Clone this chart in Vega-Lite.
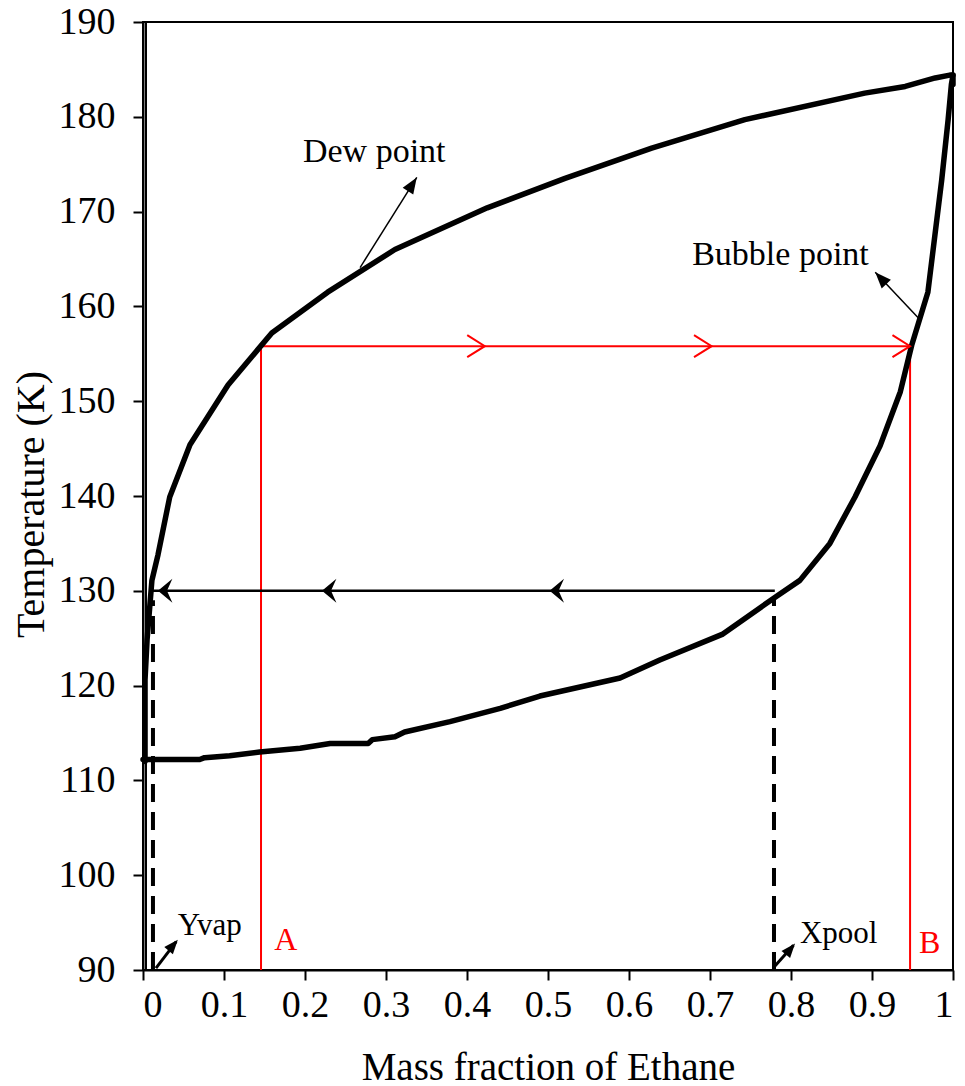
{
  "$schema": "https://vega.github.io/schema/vega-lite/v6.json",
  "width": 810,
  "height": 948,
  "autosize": {"type": "none"},
  "padding": {"left": 143, "top": 22, "right": 12, "bottom": 116},
  "background": "white",
  "config": {
    "view": {"stroke": "black", "strokeWidth": 2},
    "font": "Liberation Serif",
    "axis": {
      "grid": false,
      "domainColor": "black",
      "domainWidth": 2,
      "tickColor": "black",
      "tickWidth": 2,
      "tickSize": 10,
      "labelFont": "Liberation Serif",
      "labelFontSize": 38,
      "labelColor": "black",
      "titleFont": "Liberation Serif",
      "titleFontSize": 39,
      "titleFontWeight": "normal",
      "titleColor": "black"
    }
  },
  "layer": [
    {
      "data": {"values": [{"x": 0.0037, "y": 90, "y2": 190}]},
      "mark": {"type": "rule", "color": "black", "strokeWidth": 2},
      "encoding": {
        "x": {"field": "x", "type": "quantitative", "scale": {"domain": [0, 1], "nice": false, "zero": false},
          "axis": {"values": [0, 0.1, 0.2, 0.3, 0.4, 0.5, 0.6, 0.7, 0.8, 0.9, 1], "format": "~g", "labelPadding": 6, "title": "Mass fraction of Ethane", "titleBaseline": "alphabetic", "titleY": 109}},
        "y": {"field": "y", "type": "quantitative", "scale": {"domain": [90, 190], "nice": false, "zero": false},
          "axis": {"values": [90, 100, 110, 120, 130, 140, 150, 160, 170, 180, 190], "labelPadding": 18, "title": "Temperature (K)", "titleFontSize": 40, "titleX": -112, "titleY": 482, "titleBaseline": "middle", "titleAngle": -90}},
        "y2": {"field": "y2"}
      }
    },
    {
      "data": {"values": [
        {"x": 0.1457, "y": 90, "y2": 155.8},
        {"x": 0.947, "y": 90, "y2": 155.8}
      ]},
      "mark": {"type": "rule", "color": "#ff0000", "strokeWidth": 2},
      "encoding": {
        "x": {"field": "x", "type": "quantitative"},
        "y": {"field": "y", "type": "quantitative"},
        "y2": {"field": "y2"}
      }
    },
    {
      "data": {"values": [{"x": 0.1457, "x2": 0.947, "y": 155.8}]},
      "mark": {"type": "rule", "color": "#ff0000", "strokeWidth": 2},
      "encoding": {
        "x": {"field": "x", "type": "quantitative"},
        "x2": {"field": "x2"},
        "y": {"field": "y", "type": "quantitative"}
      }
    },
    {
      "data": {"values": [{"x": 0.009, "x2": 0.78, "y": 130}]},
      "mark": {"type": "rule", "color": "black", "strokeWidth": 2.5},
      "encoding": {
        "x": {"field": "x", "type": "quantitative"},
        "x2": {"field": "x2"},
        "y": {"field": "y", "type": "quantitative"}
      }
    },
    {
      "data": {"values": [
        {"x": 0.0123, "y": 90, "y2": 129},
        {"x": 0.779, "y": 90, "y2": 129.4}
      ]},
      "mark": {"type": "rule", "color": "black", "strokeWidth": 4, "strokeDash": [18, 10]},
      "encoding": {
        "x": {"field": "x", "type": "quantitative"},
        "y": {"field": "y", "type": "quantitative"},
        "y2": {"field": "y2"}
      }
    },
    {
      "data": {"values": [
        {"curve": "dew", "x": 0.0025, "T": 112.0},
        {"curve": "dew", "x": 0.0025, "T": 120.6},
        {"curve": "dew", "x": 0.005, "T": 124.8},
        {"curve": "dew", "x": 0.009, "T": 129.0},
        {"curve": "dew", "x": 0.011, "T": 131.1},
        {"curve": "dew", "x": 0.0185, "T": 133.8},
        {"curve": "dew", "x": 0.033, "T": 139.9},
        {"curve": "dew", "x": 0.058, "T": 145.4},
        {"curve": "dew", "x": 0.105, "T": 151.7},
        {"curve": "dew", "x": 0.159, "T": 157.2},
        {"curve": "dew", "x": 0.228, "T": 161.5},
        {"curve": "dew", "x": 0.311, "T": 166.0},
        {"curve": "dew", "x": 0.425, "T": 170.4},
        {"curve": "dew", "x": 0.521, "T": 173.5},
        {"curve": "dew", "x": 0.628, "T": 176.7},
        {"curve": "dew", "x": 0.743, "T": 179.7},
        {"curve": "dew", "x": 0.891, "T": 182.5},
        {"curve": "dew", "x": 0.941, "T": 183.2},
        {"curve": "dew", "x": 0.978, "T": 184.1},
        {"curve": "dew", "x": 0.996, "T": 184.4},
        {"curve": "dew", "x": 1.0, "T": 184.4},
        {"curve": "bubble", "x": 0.0, "T": 112.2},
        {"curve": "bubble", "x": 0.07, "T": 112.2},
        {"curve": "bubble", "x": 0.076, "T": 112.4},
        {"curve": "bubble", "x": 0.107, "T": 112.6},
        {"curve": "bubble", "x": 0.144, "T": 113.0},
        {"curve": "bubble", "x": 0.194, "T": 113.4},
        {"curve": "bubble", "x": 0.231, "T": 113.9},
        {"curve": "bubble", "x": 0.278, "T": 113.9},
        {"curve": "bubble", "x": 0.283, "T": 114.3},
        {"curve": "bubble", "x": 0.311, "T": 114.6},
        {"curve": "bubble", "x": 0.323, "T": 115.1},
        {"curve": "bubble", "x": 0.379, "T": 116.2},
        {"curve": "bubble", "x": 0.441, "T": 117.6},
        {"curve": "bubble", "x": 0.49, "T": 118.9},
        {"curve": "bubble", "x": 0.589, "T": 120.8},
        {"curve": "bubble", "x": 0.638, "T": 122.7},
        {"curve": "bubble", "x": 0.715, "T": 125.4},
        {"curve": "bubble", "x": 0.78, "T": 129.3},
        {"curve": "bubble", "x": 0.811, "T": 131.1},
        {"curve": "bubble", "x": 0.848, "T": 135.0},
        {"curve": "bubble", "x": 0.879, "T": 139.9},
        {"curve": "bubble", "x": 0.91, "T": 145.3},
        {"curve": "bubble", "x": 0.935, "T": 151.0},
        {"curve": "bubble", "x": 0.949, "T": 155.9},
        {"curve": "bubble", "x": 0.969, "T": 161.5},
        {"curve": "bubble", "x": 0.986, "T": 173.3},
        {"curve": "bubble", "x": 0.994, "T": 179.7},
        {"curve": "bubble", "x": 0.998, "T": 183.4},
        {"curve": "bubble", "x": 1.0, "T": 184.4},
        {"curve": "bubble", "x": 1.0, "T": 183.4}
      ]},
      "mark": {"type": "line", "color": "black", "strokeWidth": 5.5, "strokeJoin": "round", "strokeCap": "round"},
      "encoding": {
        "x": {"field": "x", "type": "quantitative"},
        "y": {"field": "T", "type": "quantitative"},
        "detail": {"field": "curve"},
        "order": {"value": null}
      }
    },
    {
      "data": {"values": [
        {"x": 0.268, "y": 164.1, "x2": 0.338, "y2": 173.6},
        {"x": 0.957, "y": 158.8, "x2": 0.904, "y2": 163.6}
      ]},
      "mark": {"type": "rule", "color": "black", "strokeWidth": 1.5},
      "encoding": {
        "x": {"field": "x", "type": "quantitative"},
        "y": {"field": "y", "type": "quantitative"},
        "x2": {"field": "x2"},
        "y2": {"field": "y2"}
      }
    },
    {
      "data": {"values": [
        {"x": 0.016, "y": 90.2, "x2": 0.041, "y2": 93.0},
        {"x": 0.778, "y": 90.2, "x2": 0.803, "y2": 92.6}
      ]},
      "mark": {"type": "rule", "color": "black", "strokeWidth": 3},
      "encoding": {
        "x": {"field": "x", "type": "quantitative"},
        "y": {"field": "y", "type": "quantitative"},
        "x2": {"field": "x2"},
        "y2": {"field": "y2"}
      }
    },
    {
      "data": {"values": [
        {"x": 0.0185, "y": 130},
        {"x": 0.221, "y": 130},
        {"x": 0.502, "y": 130}
      ]},
      "mark": {"type": "point", "shape": "M0,0L1.2,-1L0.75,0L1.2,1Z", "size": 576, "filled": true, "color": "black", "opacity": 1, "strokeWidth": 0},
      "encoding": {
        "x": {"field": "x", "type": "quantitative"},
        "y": {"field": "y", "type": "quantitative"}
      }
    },
    {
      "data": {"values": [
        {"x": 0.422, "y": 155.8},
        {"x": 0.702, "y": 155.8},
        {"x": 0.947, "y": 155.8}
      ]},
      "mark": {"type": "point", "shape": "M-1.6,-1L0,0L-1.6,1", "size": 484, "filled": false, "color": "#ff0000", "opacity": 1, "strokeWidth": 2},
      "encoding": {
        "x": {"field": "x", "type": "quantitative"},
        "y": {"field": "y", "type": "quantitative"}
      }
    },
    {
      "data": {"values": [{"x": 0.338, "y": 173.6}]},
      "mark": {"type": "point", "shape": "M0,0L-0.7,1.8L0.7,1.8Z", "size": 324, "filled": true, "color": "black", "opacity": 1, "strokeWidth": 0, "angle": 33},
      "encoding": {
        "x": {"field": "x", "type": "quantitative"},
        "y": {"field": "y", "type": "quantitative"}
      }
    },
    {
      "data": {"values": [{"x": 0.904, "y": 163.6}]},
      "mark": {"type": "point", "shape": "M0,0L-0.7,1.8L0.7,1.8Z", "size": 324, "filled": true, "color": "black", "opacity": 1, "strokeWidth": 0, "angle": -43},
      "encoding": {
        "x": {"field": "x", "type": "quantitative"},
        "y": {"field": "y", "type": "quantitative"}
      }
    },
    {
      "data": {"values": [{"x": 0.043, "y": 93.2}, {"x": 0.805, "y": 92.8}]},
      "mark": {"type": "point", "shape": "M0,0L-0.7,1.8L0.7,1.8Z", "size": 256, "filled": true, "color": "black", "opacity": 1, "strokeWidth": 0, "angle": 40},
      "encoding": {
        "x": {"field": "x", "type": "quantitative"},
        "y": {"field": "y", "type": "quantitative"}
      }
    },
    {
      "data": {"values": [
        {"x": 0.1975, "y": 175.2, "label": "Dew point"},
        {"x": 0.678, "y": 164.4, "label": "Bubble point"}
      ]},
      "mark": {"type": "text", "align": "left", "baseline": "alphabetic", "font": "Liberation Serif", "fontSize": 34, "color": "black"},
      "encoding": {
        "x": {"field": "x", "type": "quantitative"},
        "y": {"field": "y", "type": "quantitative"},
        "text": {"field": "label"}
      }
    },
    {
      "data": {"values": [
        {"x": 0.043, "y": 93.7, "label": "Yvap"},
        {"x": 0.811, "y": 92.85, "label": "Xpool"}
      ]},
      "mark": {"type": "text", "align": "left", "baseline": "alphabetic", "font": "Liberation Serif", "fontSize": 31, "color": "black"},
      "encoding": {
        "x": {"field": "x", "type": "quantitative"},
        "y": {"field": "y", "type": "quantitative"},
        "text": {"field": "label"}
      }
    },
    {
      "data": {"values": [
        {"x": 0.162, "y": 92.1, "label": "A"},
        {"x": 0.958, "y": 91.8, "label": "B"}
      ]},
      "mark": {"type": "text", "align": "left", "baseline": "alphabetic", "font": "Liberation Serif", "fontSize": 32, "color": "#ff0000"},
      "encoding": {
        "x": {"field": "x", "type": "quantitative"},
        "y": {"field": "y", "type": "quantitative"},
        "text": {"field": "label"}
      }
    }
  ]
}
